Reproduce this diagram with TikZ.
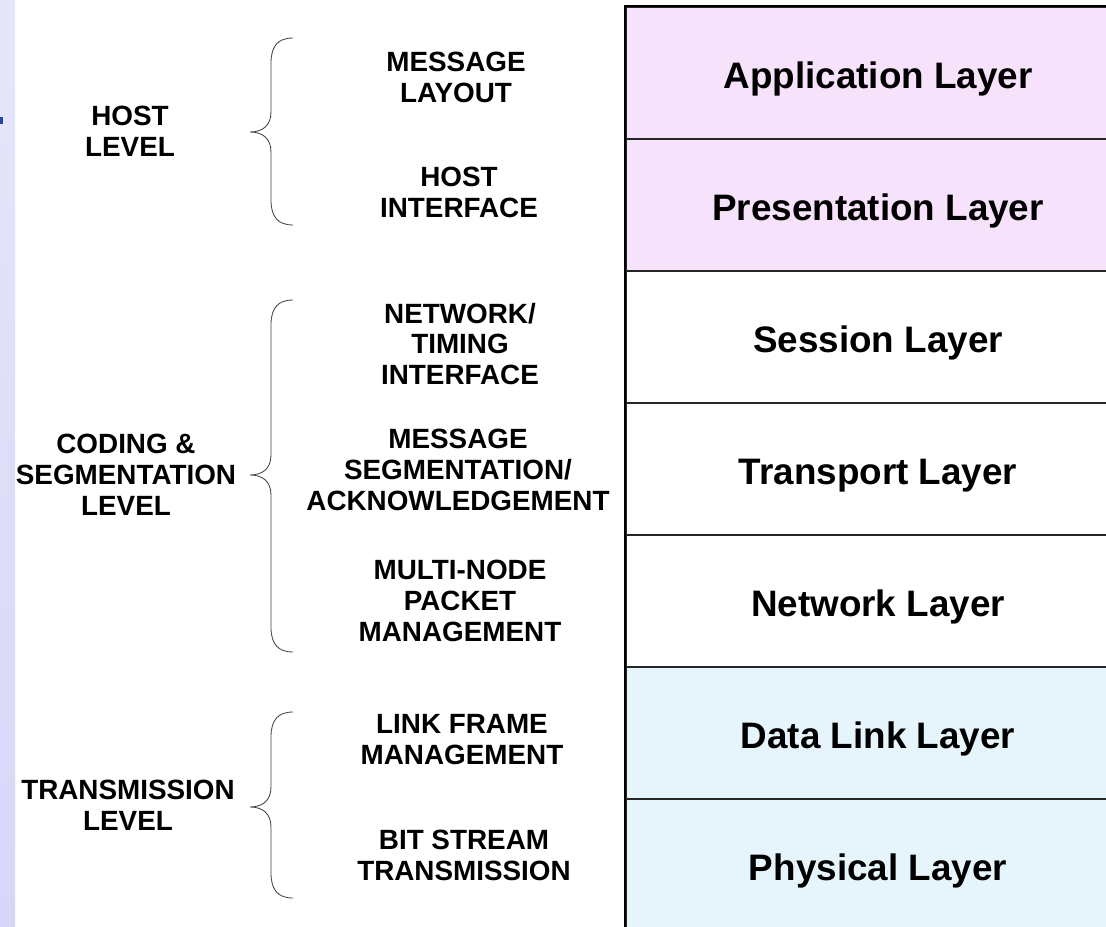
\documentclass[tikz,border=0pt]{standalone}
\usepackage{fontspec}
\setmainfont{Liberation Sans}
\definecolor{toppink}{HTML}{F7E2FB}
\definecolor{lowblue}{HTML}{E6F5FC}
\definecolor{stripA}{HTML}{E6E6FB}
\definecolor{stripB}{HTML}{D6D6F8}
\definecolor{markblue}{HTML}{2545A8}
% curly brace: top y, tip y, bottom y
\def\levelbrace(#1:#2:#3){\draw[brace] (293,#1) .. controls (278,#1) and (271,#1+8) .. (271,#1+25) -- (271,#2-20) .. controls (271,#2-6) and (262,#2) .. (250,#2) .. controls (262,#2) and (271,#2+6) .. (271,#2+20) -- (271,#3-25) .. controls (271,#3-8) and (278,#3) .. (293,#3);}

\begin{document}
\begin{tikzpicture}[x=0.025cm, y=-0.025cm,
	level/.style={font=\bfseries\fontsize{19.8}{22}\selectfont, align=center, inner sep=0pt},
	layer/.style={draw=black!85, line width=1pt, minimum width=12.6cm, minimum height=3.3cm,
		inner sep=0pt, text height=21.6pt, text depth=0pt, font=\bfseries\fontsize{26.2}{30}\selectfont},
	brace/.style={draw=black!75, line width=0.6pt}]
			%%%%% START %%%%%
			\useasboundingbox (0,0) rectangle (1106,927);
			\clip (0,0) rectangle (1106,927);
			
			\shade[top color=stripA, bottom color=stripB] (0,0) rectangle (15,927);
			\fill[markblue] (0,117) rectangle (3,124);
			
			% the seven layers
			\node[layer, fill=toppink] (app) at (878,73) {Application Layer};
			\node[layer, fill=toppink] (pres) at (878,205) {Presentation Layer};
			\node[layer, fill=white] (sess) at (878,337) {Session Layer};
			\node[layer, fill=white] (transp) at (878,469) {Transport Layer};
			\node[layer, fill=white] (net) at (878,601) {Network Layer};
			\node[layer, fill=lowblue] (dlink) at (878,733) {Data Link Layer};
			\node[layer, fill=lowblue] (phys) at (878,865) {Physical Layer};
			\draw[line width=1.5pt] (app.north east) -- (app.north west) -- (phys.south west);
			
			% functions
			\node[level] (msglayout) at (456,77) {MESSAGE\\LAYOUT};
			\node[level] (hostif) at (459,192) {HOST\\INTERFACE};
			\node[level] (netif) at (460,344) {NETWORK/\\TIMING\\INTERFACE};
			\node[level] (msgseg) at (458,470) {MESSAGE\\SEGMENTATION/\\ACKNOWLEDGEMENT};
			\node[level] (multinode) at (460,601) {MULTI-NODE\\PACKET\\MANAGEMENT};
			\node[level] (linkframe) at (462,740) {LINK FRAME\\MANAGEMENT};
			\node[level] (bitstream) at (464,855) {BIT STREAM\\TRANSMISSION};
			
			% levels
			\node[level] (hostlvl) at (130,131) {HOST\\LEVEL};
			\node[level] (codinglvl) at (126,475) {CODING \&\\SEGMENTATION\\LEVEL};
			\node[level] (translvl) at (128,805) {TRANSMISSION\\LEVEL};
			
			\levelbrace(38:132:225)
			\levelbrace(300:475:652)
			\levelbrace(712:807:898)
			%%%%% END %%%%%
\end{tikzpicture}
\end{document}
